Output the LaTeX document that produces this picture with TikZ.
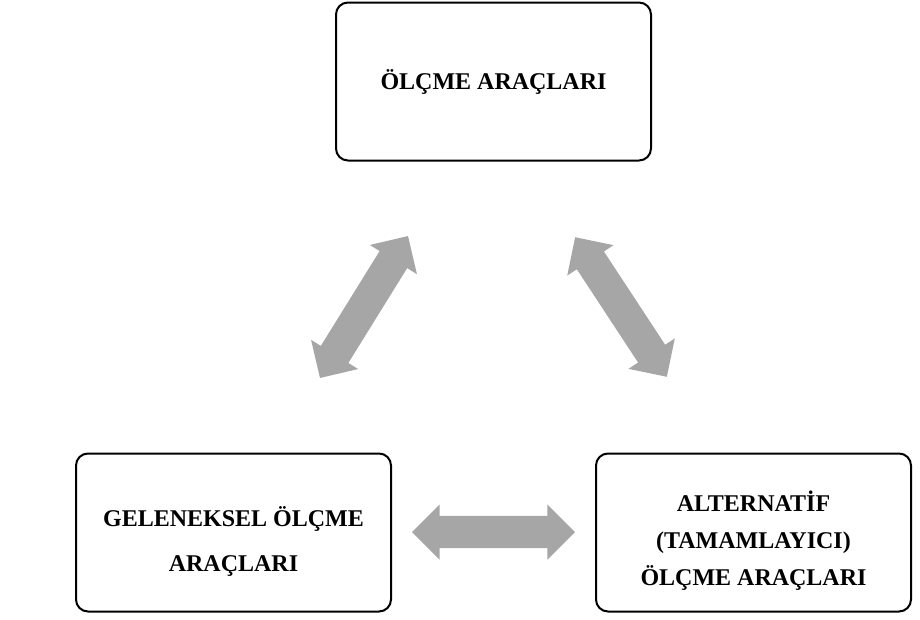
\documentclass[tikz,border=0pt]{standalone}
\usepackage{fontspec}
\setmainfont{Liberation Serif}
\usetikzlibrary{shapes.arrows,positioning}
\definecolor{arrowgray}{RGB}{166,166,166}

\begin{document}
\begin{tikzpicture}[x=1pt, y=-1pt,
  box/.style={draw, line width=2pt, rounded corners=12pt,
    minimum width=315pt, minimum height=158pt},
  boxtext/.style={align=center, font=\bfseries\fontsize{24}{45}\selectfont},
  dblarrow/.style={double arrow, fill=arrowgray, draw=none, inner xsep=0pt,
    inner ysep=16pt, minimum width=55pt, double arrow head extend=11.5pt}]
  \useasboundingbox (0,0) rectangle (920,619);

  % kutular
  \node (olcme) [box] at (493.5,81.5) {};
  \node (geleneksel) [box] at (233.5,532.5) {};
  \node (alternatif) [box] at (753.5,532.5) {};

  \node (olcmeT) [boxtext] at (olcme.center) {ÖLÇME ARAÇLARI};
  \node (gelenekselT) [boxtext] at ([yshift=-9pt]geleneksel.center) {GELENEKSEL ÖLÇME\\ARAÇLARI};
  \node (alternatifT) [boxtext, font=\bfseries\fontsize{24}{37}\selectfont]
    at ([yshift=-8pt]alternatif.center) {ALTERNATİF\\(TAMAMLAYICI)\\ÖLÇME ARAÇLARI};

  % oklar
  \node (solok) [dblarrow, minimum height=167pt, rotate=58.2] at (364,307) {};
  \node (sagok) [dblarrow, minimum height=167pt, rotate=-56.7] at (621,307) {};
  \node (altok) [dblarrow, minimum height=163pt] at (493.5,532) {};
\end{tikzpicture}
\end{document}
